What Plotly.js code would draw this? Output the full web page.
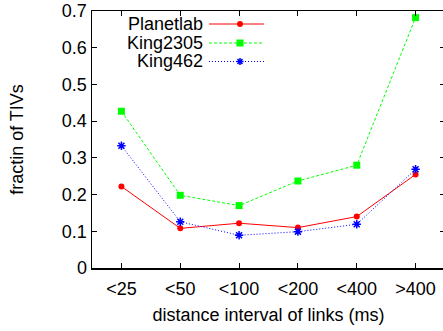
<!DOCTYPE html>
<html><head><meta charset="utf-8">
<script src="https://cdn.plot.ly/plotly-3.0.1.min.js"></script>
<style>html,body{margin:0;padding:0;overflow:hidden;background:#fff}#c{width:445px;height:331px}</style>
</head><body><div id="c"></div>
<script>
var categories = ['<25','<50','<100','<200','<400','>400'];
var planetlab = [0.222, 0.108, 0.122, 0.110, 0.140, 0.255];
var king2305 = [0.427, 0.198, 0.170, 0.237, 0.280, 0.682];
var king462 = [0.333, 0.126, 0.089, 0.099, 0.119, 0.269];
var seriesNames = ['Planetlab','King2305','King462'];
var yTicks = [0,0.1,0.2,0.3,0.4,0.5,0.6,0.7];
var yTickText = ['0','0.1','0.2','0.3','0.4','0.5','0.6','0.7'];

var F = 'Liberation Sans, Arial, sans-serif';
var FS = 18;
var idx = categories.map(function(_, i){return i;});
var traces = [
  {x: idx, y: planetlab, name: seriesNames[0], mode:'lines+markers',
   line:{color:'#ff0000', width:1}, marker:{symbol:'circle', size:6, color:'#ff0000'}},
  {x: idx, y: king2305, name: seriesNames[1], mode:'lines+markers',
   line:{color:'#00ff00', width:1, dash:'3px,2px'}, marker:{symbol:'square', size:7, color:'#00ff00'}},
  {x: idx, y: king462, name: seriesNames[2], mode:'lines+markers',
   line:{color:'#0000ff', width:1, dash:'1px,2px'}, marker:{symbol:'asterisk-open', size:7, color:'#0000ff', line:{color:'#0000ff', width:1.5}}}
];

// custom legend (text right-aligned, sample on the right) as layout decorations
var legY = [24, 43, 61.5];
var H = 331, T = 11, B = 63, ph = H - T - B;
function py(pix){ return 1 - (pix - T) / ph; }
var W = 445, L = 92, pw = W - L;
function px(pix){ return (pix - L) / pw; }
var annotations = [], shapes = [];
var cols = ['#ff0000','#00ff00','#0000ff'];
var dashes = ['solid','3px,2px','1px,2px'];
seriesNames.forEach(function(n, i){
  annotations.push({xref:'paper', yref:'paper', x: px(205), y: py(legY[i]), xanchor:'right', yanchor:'middle',
    text: n, showarrow:false, font:{family:F, size:FS, color:'#000'}});
  shapes.push({type:'line', xref:'paper', yref:'paper', x0: px(209), x1: px(264), y0: py(legY[i]), y1: py(legY[i]),
    line:{color: cols[i], width:1, dash: dashes[i]}});
});
// legend markers
shapes.push({type:'circle', xref:'paper', yref:'paper', x0:px(237), x1:px(243), y0:py(legY[0]+3), y1:py(legY[0]-3), fillcolor:'#ff0000', line:{color:'#ff0000', width:0}});
shapes.push({type:'rect', xref:'paper', yref:'paper', x0:px(236.5), x1:px(243.5), y0:py(legY[1]+3.5), y1:py(legY[1]-3.5), fillcolor:'#00ff00', line:{color:'#00ff00', width:0}});
var cx = 240, cy = legY[2], r = 3.5, d = 2.5;
shapes.push({type:'path', xref:'paper', yref:'paper',
  path: 'M'+px(cx-r)+','+py(cy)+' L'+px(cx+r)+','+py(cy)+' M'+px(cx)+','+py(cy-r)+' L'+px(cx)+','+py(cy+r)+
        ' M'+px(cx-d)+','+py(cy-d)+' L'+px(cx+d)+','+py(cy+d)+' M'+px(cx-d)+','+py(cy+d)+' L'+px(cx+d)+','+py(cy-d),
  line:{color:'#0000ff', width:1.5}});

var layout = {
  width: W, height: H,
  margin: {l: L, r: 0, t: T, b: B},
  paper_bgcolor:'#fff', plot_bgcolor:'#fff',
  showlegend: false,
  font: {family: F, size: FS, color:'#000'},
  xaxis: {range:[-0.5, 5.5], tickvals: idx, ticktext: categories, ticks:'inside', ticklen:5,
    showline:true, mirror:'ticks', linecolor:'#000', linewidth:1.5, tickcolor:'#000', showgrid:false, zeroline:false,
    tickfont:{family:F, size:FS}, fixedrange:true, ticklabelstandoff:4,
    title:{text:'distance interval of links (ms)', font:{family:F, size:FS}, standoff:10}},
  yaxis: {range:[0, 0.7], tickvals: yTicks, ticktext: yTickText, ticks:'inside', ticklen:5,
    showline:true, mirror:'ticks', linecolor:'#000', linewidth:1.5, tickcolor:'#000', showgrid:false, zeroline:false,
    tickfont:{family:F, size:FS}, fixedrange:true,
    title:{text:'fractin of TIVs', font:{family:F, size:FS}, standoff:33}},
  annotations: annotations,
  shapes: shapes
};
Plotly.newPlot('c', traces, layout, {displayModeBar:false, staticPlot:true});
</script></body></html>
